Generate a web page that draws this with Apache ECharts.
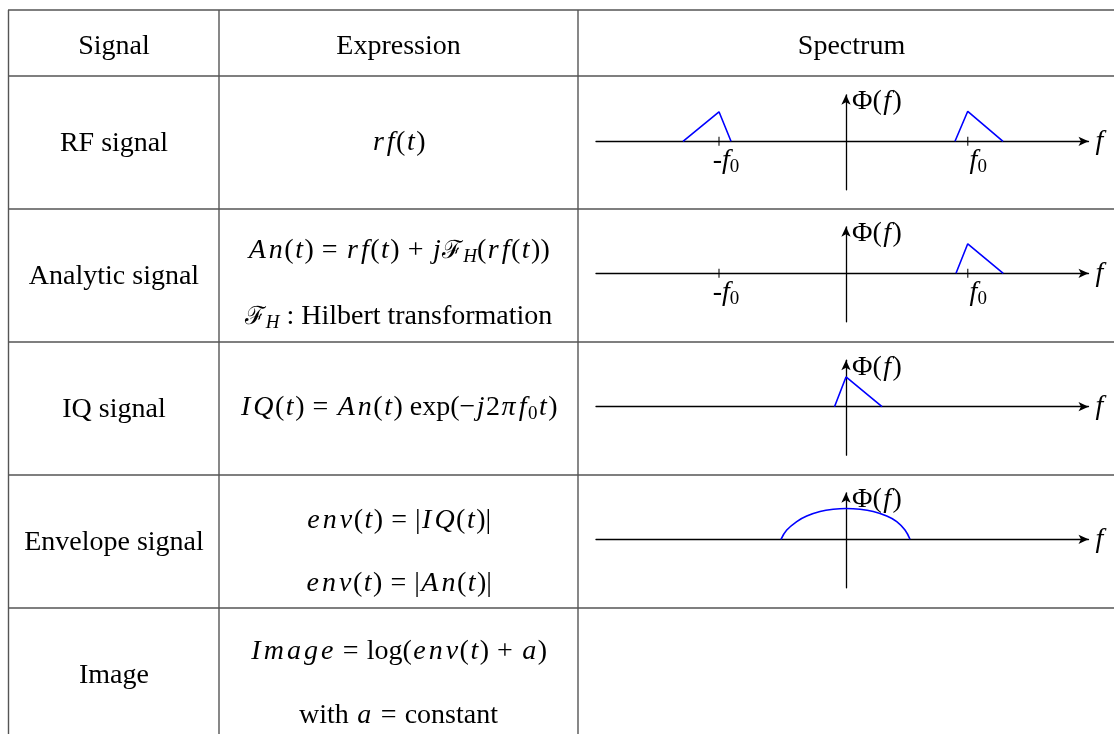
<!DOCTYPE html>
<html>
<head>
<meta charset="utf-8">
<script src="https://cdn.jsdelivr.net/npm/echarts@6/dist/echarts.min.js"></script>
<style>
  html, body { margin: 0; padding: 0; background: #fff; }
  #main { width: 1114px; height: 734px; }
</style>
</head>
<body>
<div id="main"></div>
<script>
// table text
var headers = ['Signal', 'Expression', 'Spectrum'];
var signals = ['RF signal', 'Analytic signal', 'IQ signal', 'Envelope signal', 'Image'];
var expressions = [
  ['{i|rf}{r|(}{i|t}{r|)}'],
  ['{i|An}{r|(}{i|t}{r|)}{op|=}{i|rf}{r|(}{i|t}{r|)}{op|+}{i|j}{c|ℱ}{s|H}{r|(}{i|rf}{r|(}{i|t}{r|))}',
   '{c|ℱ}{s|H}{r| : Hilbert transformation}'],
  ['{i|IQ}{r|(}{i|t}{r|)}{op|=}{i|An}{r|(}{i|t}{r|) exp(−}{i|j}{r|2}{i|πf}{s0|0}{i|t}{r|)}'],
  ['{i|env}{r|(}{i|t}{r|)}{op|=}{r||}{i|IQ}{r|(}{i|t}{r|)|}',
   '{i|env}{r|(}{i|t}{r|)}{op|=}{r||}{i|An}{r|(}{i|t}{r|)|}'],
  ['{i|Image}{op|=}{r|log(}{i|env}{r|(}{i|t}{r|)}{op|+}{i|a}{r|)}',
   '{r|with }{i|a}{op|=}{r|constant}']
];

// spectra (x in units of 25px, f0 ticks)
var f0Ticks = [-5.08, 4.87];
var rfLeft = [[-6.52, 0], [-5.08, 1.18], [-4.6, 0]];
var rfRight = [[4.36, 0], [4.87, 1.2], [6.28, 0]];
var anRight = [[4.4, 0], [4.87, 1.18], [6.29, 0]];
var iqPeak = [[-0.46, 0], [0, 1.19], [1.44, 0]];
var envArc = [[-2.6, 0], [-2.37, 0.37], [-1.97, 0.71], [-1.57, 0.93], [-1.04, 1.11], [-0.51, 1.2],
  [0, 1.23], [0.56, 1.2], [1.09, 1.11], [1.63, 0.93], [2.03, 0.71], [2.36, 0.37], [2.56, 0]];

var FONT = 'Liberation Serif';
var FS = 28;
var rich = {
  r: { fontFamily: FONT, fontSize: FS, color: '#000' },
  i: { fontFamily: FONT, fontSize: FS, fontStyle: 'italic', color: '#000', padding: [0, 1.5, 0, 1.5] },
  op: { fontFamily: FONT, fontSize: FS, color: '#000', padding: [0, 8, 0, 8] },
  c: { fontFamily: 'DejaVu Serif', fontSize: FS - 3, color: '#000' },
  s: { fontFamily: FONT, fontSize: 19, fontStyle: 'italic', color: '#000', padding: [12, 0, 0, 0] },
  s0: { fontFamily: FONT, fontSize: 19, color: '#000', padding: [12, 0, 0, 0] }
};

// math italic: one token per letter so letters get TeX-like spacing
function spaced(s) {
  return s.replace(/\{i\|([^}]*)\}/g, function (m, t) {
    return t.split('').map(function (ch) { return '{i|' + ch + '}'; }).join('');
  });
}

var myChart = echarts.init(document.getElementById('main'));

var hLines = [10, 76, 209, 342, 475, 608];
var vLines = [8.5, 219, 578];
var colCenter = [114, 398.5, 851.5];
var rowY = [47, 144, 277, 410, 543, 676];
var exprY = [[143], [251, 317], [408], [521, 584], [652, 716]];
var axisY = [141.3, 273.3, 406.7, 539.3];

var graphic = [];
hLines.forEach(function (y) {
  graphic.push({ type: 'line', shape: { x1: 8, y1: y, x2: 1114, y2: y }, style: { stroke: '#555', lineWidth: 1.4 } });
});
vLines.forEach(function (x) {
  graphic.push({ type: 'line', shape: { x1: x, y1: 10, x2: x, y2: 734 }, style: { stroke: '#555', lineWidth: 1.4 } });
});
headers.forEach(function (h, k) {
  graphic.push({ type: 'text', x: colCenter[k], y: rowY[0],
    style: { text: h, fontFamily: FONT, fontSize: FS, fill: '#000', align: 'center', verticalAlign: 'middle' } });
});
signals.forEach(function (s, k) {
  graphic.push({ type: 'text', x: colCenter[0], y: rowY[k + 1],
    style: { text: s, fontFamily: FONT, fontSize: FS, fill: '#000', align: 'center', verticalAlign: 'middle' } });
});
expressions.forEach(function (lines, k) {
  lines.forEach(function (t, j) {
    graphic.push({ type: 'text', x: colCenter[1], y: exprY[k][j],
      style: { text: spaced(t), rich: rich, fontFamily: FONT, fontSize: FS, fill: '#000', align: 'center', verticalAlign: 'middle' } });
  });
});

var grids = [], xAxes = [], yAxes = [];
axisY.forEach(function (y0, k) {
  grids.push({ left: 596, width: 492.5, top: y0 - 46.5, height: 95, outerBoundsMode: 'none' });
  var withTicks = k < 2;
  xAxes.push({
    gridIndex: k, type: 'value', min: -10, max: 9.7,
    name: 'f', nameLocation: 'end', nameGap: 7,
    nameTextStyle: { fontFamily: FONT, fontSize: FS, fontStyle: 'italic', color: '#000', verticalAlign: 'middle' },
    axisLine: { show: true, onZero: true, symbol: ['none', 'arrow'], symbolSize: [7, 10],
      lineStyle: { color: '#000', width: 1.3 } },
    axisTick: { show: false },
    splitLine: { show: false },
    axisLabel: withTicks ? {
      show: true, customValues: f0Ticks, margin: -29, verticalAlign: 'middle', align: 'center',
      formatter: function (v) {
        return v < 0 ? '{mn|-}{lf|f}{ls|0}' : '{pf|f}{ls|0}';
      },
      rich: {
        mn: { fontFamily: FONT, fontSize: FS, color: '#000', padding: [0, 0, 0, 14] },
        lf: { fontFamily: FONT, fontSize: FS, fontStyle: 'italic', color: '#000' },
        pf: { fontFamily: FONT, fontSize: FS, fontStyle: 'italic', color: '#000', padding: [0, 0, 0, 21] },
        ls: { fontFamily: FONT, fontSize: 19, color: '#000', padding: [12, 0, 0, 0] }
      }
    } : { show: false }
  });
  yAxes.push({
    gridIndex: k, type: 'value', min: -1.94, max: 1.86,
    name: '{r|Φ(}{i|f}{r|)}', nameLocation: 'end', nameGap: -7,
    nameTextStyle: { align: 'left', verticalAlign: 'middle', padding: [0, 0, 0, 6], rich: rich },
    axisLine: { show: true, onZero: true, symbol: ['none', 'arrow'], symbolSize: [7, 10],
      lineStyle: { color: '#000', width: 1.3 } },
    axisTick: { show: false },
    axisLabel: { show: false },
    splitLine: { show: false }
  });
});

function blueLine(data, k, smooth) {
  return {
    type: 'line', xAxisIndex: k, yAxisIndex: k, data: data, symbol: 'none', silent: true,
    smooth: smooth || false, z: 3,
    lineStyle: { color: '#0000ff', width: 1.6 }
  };
}
function tickMarks(k) {
  return {
    type: 'scatter', xAxisIndex: k, yAxisIndex: k, silent: true, z: 4,
    data: f0Ticks.map(function (v) { return [v, 0]; }),
    symbol: 'rect', symbolSize: [1.3, 9], itemStyle: { color: '#000' }
  };
}

var option = {
  backgroundColor: '#fff',
  animation: false,
  grid: grids,
  xAxis: xAxes,
  yAxis: yAxes,
  graphic: graphic,
  series: [
    blueLine(rfLeft, 0), blueLine(rfRight, 0), tickMarks(0),
    blueLine(anRight, 1), tickMarks(1),
    blueLine(iqPeak, 2),
    blueLine(envArc, 3, 0.4)
  ]
};
myChart.setOption(option);
</script>
</body>
</html>
